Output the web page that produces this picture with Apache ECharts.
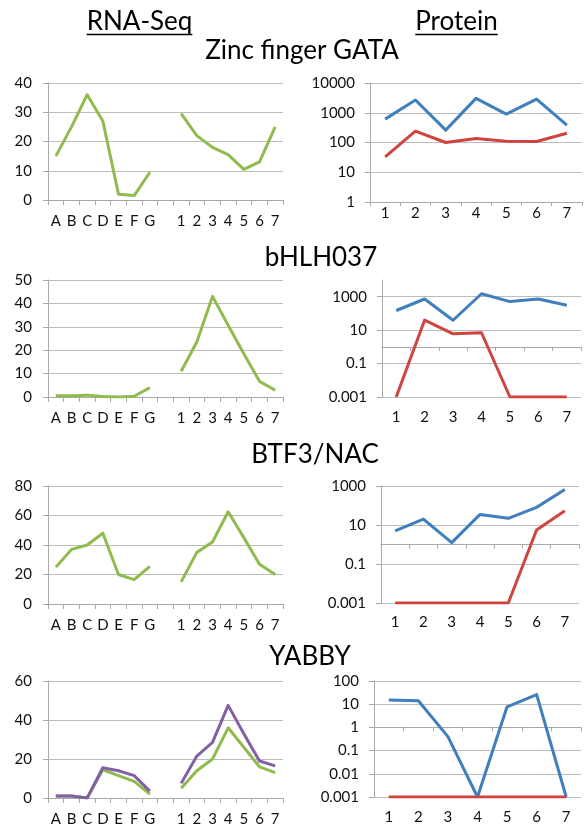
<!DOCTYPE html>
<html><head><meta charset="utf-8">
<script src="https://cdn.jsdelivr.net/npm/echarts@6/dist/echarts.min.js"></script>
<style>html,body{margin:0;padding:0;background:#fff}#c{width:586px;height:827px}</style>
</head><body><div id="c"></div>
<script>
// ---- data ----
const rnaCategories = ['A','B','C','D','E','F','G','','1','2','3','4','5','6','7'];
const proteinCategories = ['1','2','3','4','5','6','7'];

const gataRna = [15,25,36,27,2,1.5,9.5,null,29.5,22,18,15.5,10.5,13,25];
const gataBlue = [610,2680,260,3040,900,2860,385];
const gataRed = [33,240,100,137,110,108,205];

const bhlhRna = [0.5,0.5,0.8,0.2,0,0.3,4,null,11,23.5,43,30.7,18.5,6.7,2.9];
const bhlhBlue = [150,730,39,1500,510,730,310];
const bhlhRed = [0.001,40,6,7,0.001,0.001,0.001];

const btfRna = [25,37,40,48,20,16.5,25.5,null,15,35,42,62.5,45,27,20];
const btfBlue = [5,20,1.25,35,22,80,670];
const btfRed = [0.001,0.001,0.001,0.001,0.001,5.5,54];

const yabbyGreen = [1,1,0,14.5,11.5,8.5,2,null,5,14,20,36,26,16,13];
const yabbyPurple = [1,1,0,15.5,14,11.5,3.5,null,7.5,21.5,28.5,47.5,33,19,16.5];
const yabbyBlue = [15,14,0.4,0.001,7.7,26,0.001];
const yabbyRed = [0.001,0.001,0.001,0.001,0.001,0.001,0.001];

const headers = ['RNA-Seq','Protein'];
const geneNames = ['Zinc finger GATA','bHLH037','BTF3/NAC','YABBY'];

// ---- style ----
const GREEN = '#8fbb4f', BLUE = '#3f7fbd', RED = '#d0443f', PURPLE = '#8260a6';
const AXIS = '#a9a9a9', GRID = '#bdbdbd', TXT = '#111';
const FONT = 'Lato';
const TICK_FS = 15;

const grids = [
  {left:48, top:83, width:235, height:117},
  {left:370, top:83, width:212, height:119},
  {left:48, top:280, width:235, height:117},
  {left:382, top:280, width:199, height:117},
  {left:48, top:486, width:235, height:118},
  {left:381, top:486, width:198, height:117},
  {left:48, top:681, width:235, height:117},
  {left:374, top:681, width:207, height:116}
];

const xAxes = [], yAxes = [], series = [];

function rnaPanel(gi, max, interval, lines) {
  const xi = xAxes.length;
  xAxes.push({type:'category', gridIndex:gi, data:rnaCategories, boundaryGap:true,
    axisLine:{show:true, lineStyle:{color:AXIS, width:1}},
    axisTick:{show:true, length:5, lineStyle:{color:AXIS}},
    axisLabel:{interval:0, margin:14, fontSize:TICK_FS, color:TXT, fontFamily:FONT}});
  yAxes.push({type:'value', gridIndex:gi, min:0, max:max, interval:interval,
    axisLine:{show:true, lineStyle:{color:AXIS}},
    axisTick:{show:true, length:5, lineStyle:{color:AXIS}},
    splitLine:{show:true, lineStyle:{color:GRID, width:1}},
    axisLabel:{margin:16, fontSize:TICK_FS, color:TXT, fontFamily:FONT}});
  lines.forEach(l => series.push({type:'line', xAxisIndex:xi, yAxisIndex:gi, data:l.data,
    showSymbol:false, symbol:'none', connectNulls:false,
    lineStyle:{color:l.color, width:3, join:'round'}}));
}

function fmtLog(v) { return String(+(+v).toPrecision(6)); }

function protPanel(gi, min, max, interval, showMax, lines, labelMargin) {
  const h = grids[gi].height;
  const lmin = Math.log10(min), lmax = Math.log10(max);
  const off = -h * (0 - lmin) / (lmax - lmin);
  const xi = xAxes.length;
  xAxes.push({type:'category', gridIndex:gi, position:'bottom', data:proteinCategories, boundaryGap:true,
    axisLine:{show: off === 0, lineStyle:{color:AXIS}},
    axisTick:{show: off === 0, length:4, lineStyle:{color:AXIS}},
    axisLabel:{interval:0, margin:labelMargin, fontSize:TICK_FS, color:TXT, fontFamily:FONT}});
  if (off !== 0) {
    xAxes.push({type:'category', gridIndex:gi, position:'bottom', offset:off, data:proteinCategories, boundaryGap:true,
      axisLine:{show:true, onZero:false, lineStyle:{color:AXIS}},
      axisTick:{show:true, length:4, lineStyle:{color:AXIS}},
      axisLabel:{show:false}});
  }
  yAxes.push({type:'log', logBase:10, gridIndex:gi, min:min, max:max, interval:interval,
    axisLine:{show:true, lineStyle:{color:AXIS}},
    axisTick:{show:true, length:5, lineStyle:{color:AXIS}},
    splitLine:{show:true, showMaxLine:showMax, lineStyle:{color:GRID, width:1}},
    axisLabel:{margin:15, fontSize:TICK_FS, color:TXT, fontFamily:FONT, showMaxLabel:showMax, formatter:fmtLog}});
  lines.forEach(l => series.push({type:'line', xAxisIndex:xi, yAxisIndex:gi, data:l.data,
    showSymbol:false, symbol:'none',
    lineStyle:{color:l.color, width:3, join:'round'}}));
}

rnaPanel(0, 40, 10, [{data:gataRna, color:GREEN}]);
protPanel(1, 1, 10000, 1, true, [{data:gataBlue, color:BLUE},{data:gataRed, color:RED}], 4);
rnaPanel(2, 50, 10, [{data:bhlhRna, color:GREEN}]);
protPanel(3, 0.001, 10000, 2, false, [{data:bhlhBlue, color:BLUE},{data:bhlhRed, color:RED}], 13);
rnaPanel(4, 80, 20, [{data:btfRna, color:GREEN}]);
protPanel(5, 0.001, 1000, 2, true, [{data:btfBlue, color:BLUE},{data:btfRed, color:RED}], 12);
rnaPanel(6, 60, 20, [{data:yabbyGreen, color:GREEN},{data:yabbyPurple, color:PURPLE}]);
protPanel(7, 0.001, 100, 1, true, [{data:yabbyBlue, color:BLUE},{data:yabbyRed, color:RED}], 13);

// ---- headings ----
const ctx = document.createElement('canvas').getContext('2d');
function tw(t, f) { ctx.font = f; return ctx.measureText(t).width; }
const HFONT = '26px ' + FONT, GFONT = '26px ' + FONT;
const graphic = [];
[[headers[0], 139.5, 22], [headers[1], 456.5, 22]].forEach(([t, x, y]) => {
  const w = tw(t, HFONT);
  graphic.push({type:'text', x:x, y:y, style:{text:t, font:HFONT, fill:'#000', textAlign:'center', textVerticalAlign:'middle'}});
  graphic.push({type:'line', shape:{x1:x - w/2, y1:y+12.5, x2:x + w/2, y2:y+12.5}, style:{stroke:'#000', lineWidth:1.5}});
});
[[geneNames[0], 302, 51], [geneNames[1], 321, 258], [geneNames[2], 315, 455], [geneNames[3], 310, 657]].forEach(([t, x, y]) => {
  graphic.push({type:'text', x:x, y:y, style:{text:t, font:GFONT, fill:'#000', textAlign:'center', textVerticalAlign:'middle'}});
});

const chart = echarts.init(document.getElementById('c'), null, {renderer:'canvas'});
chart.setOption({
  animation:false,
  backgroundColor:'#fff',
  grid: grids,
  xAxis: xAxes,
  yAxis: yAxes,
  series: series,
  graphic: graphic
});
</script>
</body></html>
